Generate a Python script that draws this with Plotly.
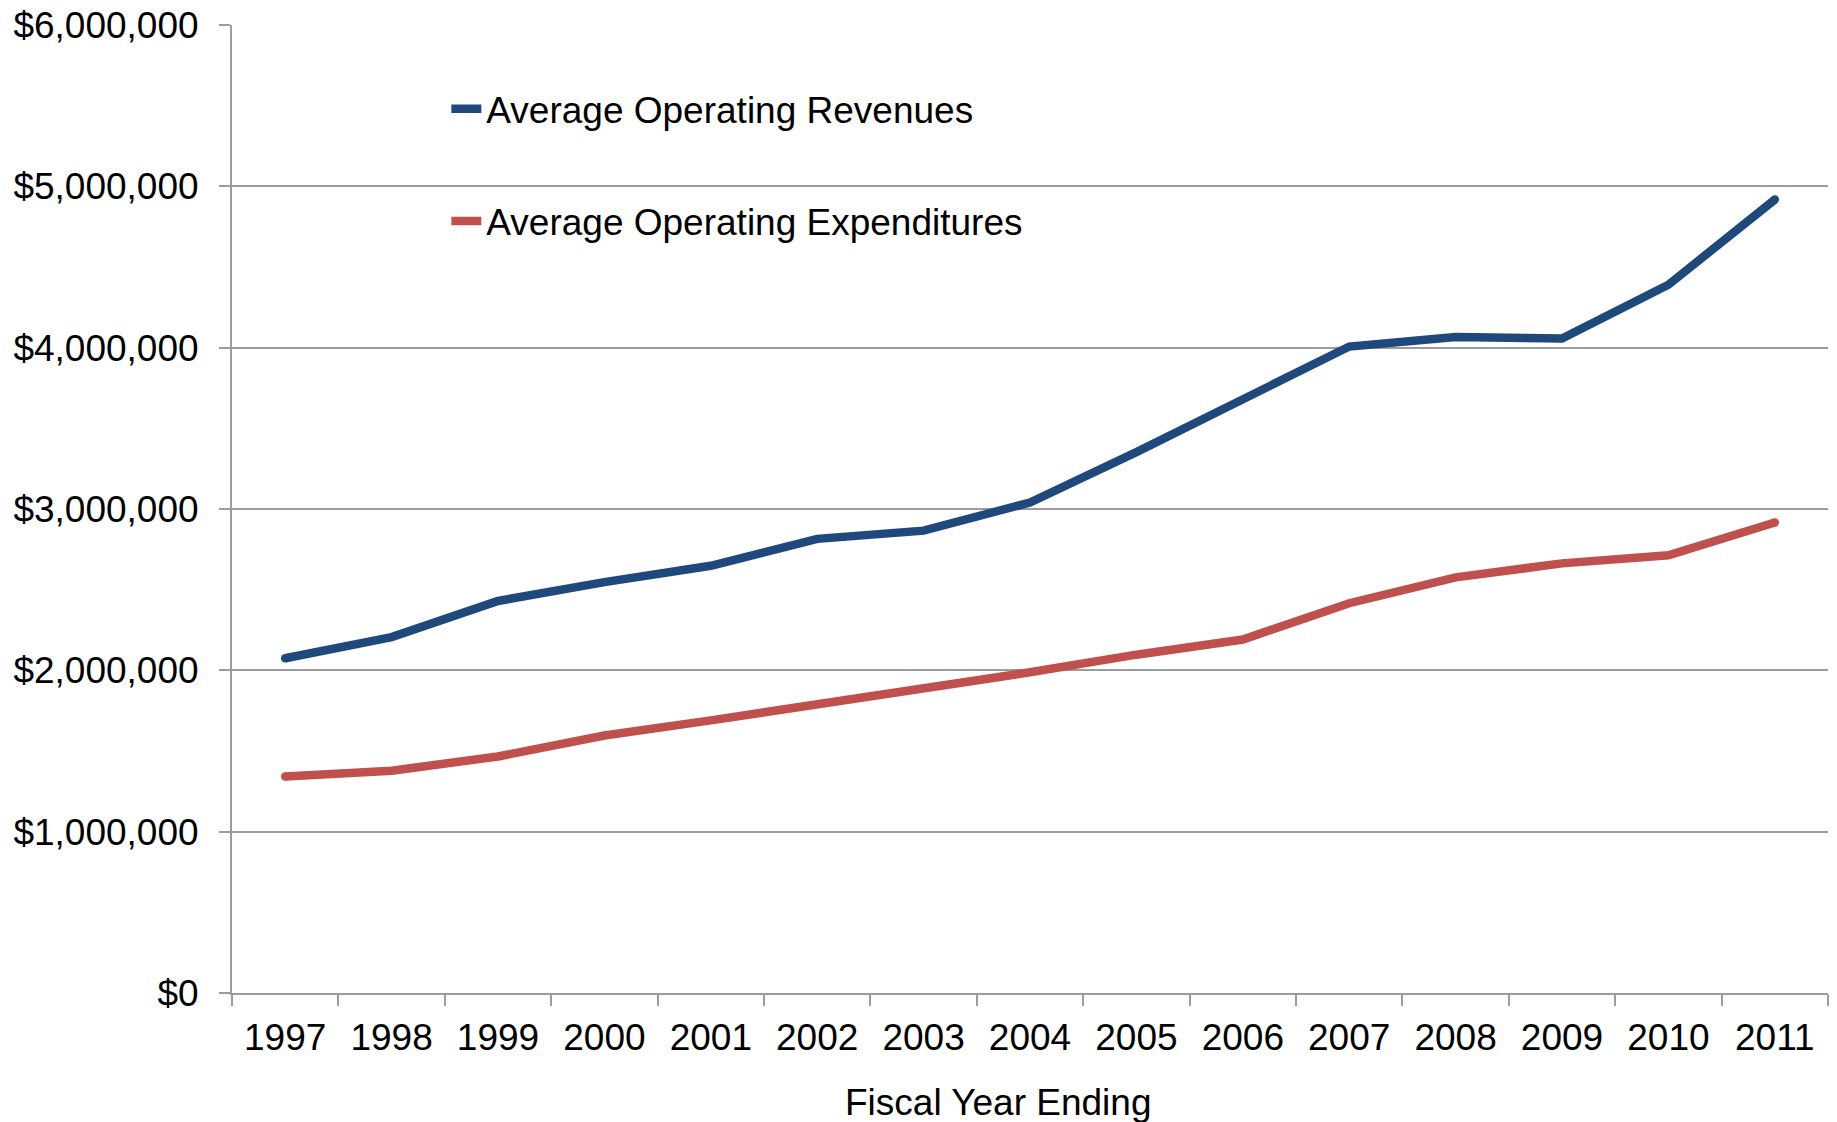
import plotly.graph_objects as go

years = ["1997", "1998", "1999", "2000", "2001", "2002", "2003", "2004",
         "2005", "2006", "2007", "2008", "2009", "2010", "2011"]
revenues = [2075000, 2206000, 2430000, 2547000, 2648000, 2815000, 2866000, 3040000,
            3352000, 3678000, 4007000, 4066000, 4057000, 4390000, 4918000]
expenditures = [1342000, 1378000, 1466000, 1596000, 1690000, 1785000, 1886000, 1988000,
                2097000, 2191000, 2416000, 2576000, 2663000, 2713000, 2916000]
y_ticks = [0, 1000000, 2000000, 3000000, 4000000, 5000000, 6000000]

BLUE = "#1F497D"
RED = "#C0504D"
GRID = "#9C9C9C"
FONT = "Liberation Sans, Arial, sans-serif"
FS = 37

fig = go.Figure()
fig.add_trace(go.Scatter(
    x=years, y=revenues, name="Average Operating Revenues",
    mode="lines", line=dict(color=BLUE, width=8.5), legendgroup="a",
))
fig.add_trace(go.Scatter(
    x=years, y=expenditures, name="Average Operating Expenditures",
    mode="lines", line=dict(color=RED, width=8.5), legendgroup="b",
))
# round end caps
for ys, c in ((revenues, BLUE), (expenditures, RED)):
    fig.add_trace(go.Scatter(
        x=[years[0], years[-1]], y=[ys[0], ys[-1]], mode="markers",
        marker=dict(color=c, size=8.5, line=dict(width=0)),
        showlegend=False, hoverinfo="skip",
    ))

fig.update_layout(
    width=1837, height=1122,
    margin=dict(l=232, r=9, t=25, b=128.5),
    paper_bgcolor="white", plot_bgcolor="white",
    font=dict(family=FONT, size=FS, color="black"),
    showlegend=True,
    legend=dict(
        x=0.1343, y=0.945, xanchor="left", yanchor="top",
        bgcolor="rgba(0,0,0,0)", borderwidth=0,
        font=dict(size=FS, family=FONT, color="black"),
        tracegroupgap=61, itemwidth=30,
    ),
    xaxis=dict(
        type="category", tickson="boundaries", range=[-0.5, 14.5],
        automargin=False,
        showline=True, linecolor=GRID, linewidth=2,
        ticks="outside", ticklen=11, tickcolor=GRID, tickwidth=1.5,
        showgrid=False, tickfont=dict(size=FS, family=FONT),
        ticklabelstandoff=11,
    ),
    yaxis=dict(
        range=[0, 6000000], tickvals=y_ticks, tickformat="$,.0f",
        automargin=False,
        showline=True, linecolor=GRID, linewidth=2,
        ticks="outside", ticklen=11, tickcolor=GRID, tickwidth=1.5,
        showgrid=True, gridcolor=GRID, gridwidth=2,
        zeroline=False, tickfont=dict(size=FS, family=FONT),
        ticklabelstandoff=13,
    ),
    annotations=[dict(
        text="Fiscal Year Ending", xref="paper", yref="paper",
        x=0.48, y=-0.1134, xanchor="center", yanchor="middle",
        showarrow=False, font=dict(size=FS, family=FONT, color="black"),
    )],
)

fig.write_html(
    "out.html",
    config={"displayModeBar": False},
    post_script="document.body.style.margin='0';document.body.style.overflow='hidden';",
)
